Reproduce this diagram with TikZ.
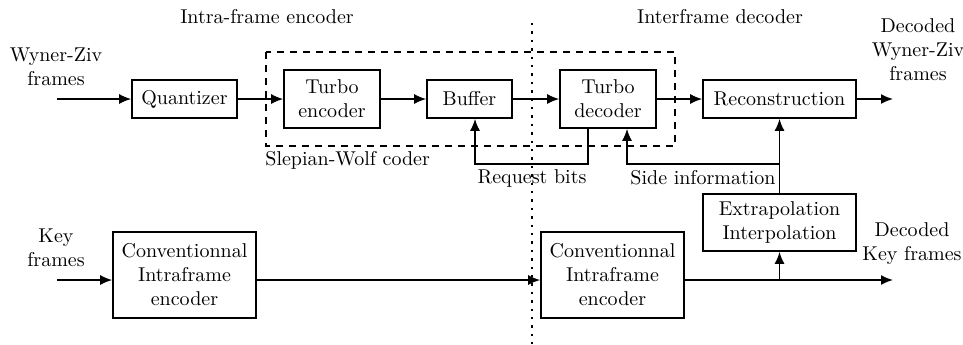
\documentclass[tikz,border=0pt]{standalone}
\usetikzlibrary{arrows.meta}
\begin{document}
\begin{tikzpicture}[x=0.5pt,y=-0.5pt,
  blk/.style={draw,line width=0.8pt,align=center,inner sep=0pt,font=\normalsize},
  lbl/.style={align=center,inner sep=0pt},
  arr/.style={line width=0.8pt,-{Latex[length=6pt,width=5pt]}},
  ln/.style={line width=0.8pt}]
\useasboundingbox (0,0) rectangle (963,344);
% dashed Slepian-Wolf box
\draw[line width=0.7pt,dash pattern=on 3.5pt off 3pt] (266,52) rectangle (675,146);
% dotted separator
\draw[line width=0.8pt,dash pattern=on 1.2pt off 3pt] (532,23) -- (532,344);
% blocks
\node[blk,minimum width=52.5pt,minimum height=19pt] (quant) at (184.5,99) {Quantizer};
\node[blk,minimum width=48pt,minimum height=29pt] (tenc) at (332,99) {Turbo\\encoder};
\node[blk,minimum width=42.5pt,minimum height=19pt] (buf) at (469.5,99) {Buffer};
\node[blk,minimum width=48pt,minimum height=29pt] (tdec) at (608,99) {Turbo\\decoder};
\node[blk,minimum width=76.5pt,minimum height=19pt] (rec) at (779.5,99) {Reconstruction};
\node[blk,minimum width=76.5pt,minimum height=28.5pt] (extr) at (779.5,222.5) {Extrapolation\\Interpolation};
\node[blk,minimum width=71.5pt,minimum height=43pt] (cenc) at (184.5,275) {Conventionnal\\Intraframe\\encoder};
\node[blk,minimum width=71.5pt,minimum height=43pt] (cdec) at (612.5,275) {Conventionnal\\Intraframe\\encoder};
% labels
\node[lbl] (tl) at (267,17) {Intra-frame encoder};
\node[lbl] (tr) at (720,17) {Interframe decoder};
\node[lbl] (wz) at (56,67) {Wyner-Ziv\\frames};
\node[lbl] (dwz) at (918,50) {Decoded\\Wyner-Ziv\\frames};
\node[lbl] (kf) at (56,248) {Key\\frames};
\node[lbl] (dkf) at (912,244) {Decoded\\Key frames};
\node[lbl,anchor=west] (sw) at (265,160) {Slepian-Wolf coder};
\node[lbl] (rb) at (532,178) {Request bits};
\node[lbl] (si) at (703,178) {Side information};
% top chain
\coordinate (win) at (57,99);
\coordinate (wout) at (893,99);
\draw[arr] (win) -- (quant.west);
\draw[arr] (quant) -- (tenc);
\draw[arr] (tenc) -- (buf);
\draw[arr] (buf) -- (tdec);
\draw[arr] (tdec) -- (rec);
\draw[arr] (rec) -- (wout);
% request bits loop
\coordinate (rqr) at (588,164);
\coordinate (rql) at (475,164);
\draw[arr] (tdec.south -| rqr) -- (rqr) -- (rql) -- (buf.south -| rql);
% side information
\coordinate (sir) at (779.5,164);
\coordinate (sil) at (627,164);
\draw[arr] (extr.north) -- (rec.south);
\draw[arr] (sir) -- (sil) -- (tdec.south -| sil);
% key frames chain
\coordinate (kin) at (57,280);
\coordinate (kout) at (893,280);
\draw[arr] (kin) -- (kin -| cenc.west);
\draw[arr] (cenc.east |- kin) -- (kin -| cdec.west);
\draw[arr] (cdec.east |- kin) -- (kout);
\draw[arr] (kout -| extr.south) -- (extr.south);
\end{tikzpicture}
\end{document}
